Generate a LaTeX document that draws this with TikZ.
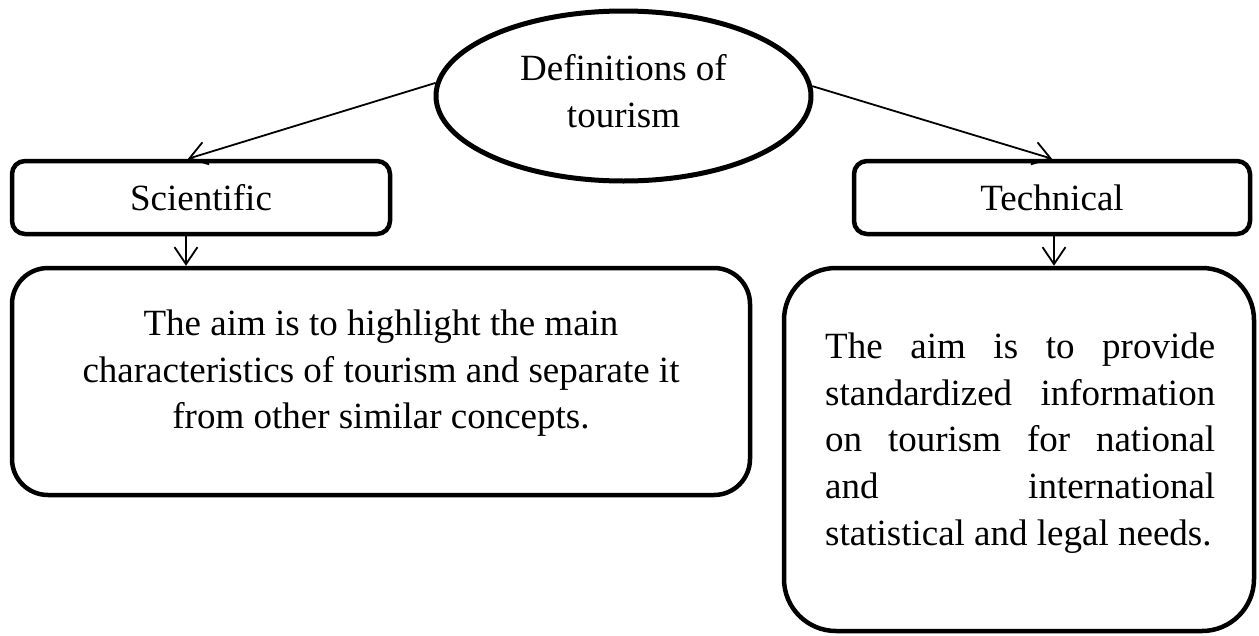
\documentclass[tikz,border=0pt]{standalone}
\usepackage{fontspec}
\setmainfont{Liberation Serif}
\usetikzlibrary{arrows.meta,shapes.geometric}
\begin{document}
\begin{tikzpicture}[x=1pt,y=-1pt,
  txt/.style={font=\fontsize{37}{46.7}\selectfont, inner sep=0pt},
  smallbox/.style={draw, line width=4.5pt, rounded corners=13pt, inner sep=0pt,
    font=\fontsize{37}{46.7}\selectfont, minimum height=73pt},
  bigbox/.style={draw, line width=4.5pt, inner sep=0pt},
  oval/.style={ellipse, draw, line width=5pt, inner sep=0pt},
  arr/.style={line width=1.8pt, -{Straight Barb[length=17pt,width=23pt]}}
]
\useasboundingbox (0,0) rectangle (1259,635);

\node[oval, minimum width=375pt, minimum height=170pt] (def) at (623.5,96) {};
\node[txt, anchor=north, align=center] (deftext) at (623.5,54.7) {Definitions of\\tourism};

\node[smallbox, minimum width=378pt] (sci) at (201,197.5) {Scientific};
\node[smallbox, minimum width=396pt] (tec) at (1052,197.5) {Technical};

\node[bigbox, rounded corners=36pt, minimum width=738pt, minimum height=227pt] (aimL) at (381,381.5) {};
\node[txt, anchor=north, align=center] (aimLtext) at (381,309.7)
  {The aim is to highlight the main\\characteristics of tourism and separate it\\from other similar concepts.};

\node[bigbox, rounded corners=52pt, minimum width=470pt, minimum height=363pt] (aimR) at (1019,449.5) {};
\node[txt, anchor=north west, align=left] (aimRtext) at (825,332.7)
  {\makebox[390pt][s]{The aim is to provide}\\
   \makebox[390pt][s]{standardized information}\\
   \makebox[390pt][s]{on tourism for national}\\
   \makebox[390pt][s]{and international}\\
   statistical and legal needs.};

\draw[arr] (def.176) -- ([xshift=-13pt]sci.north);
\draw[arr] (def.3) -- (tec.north);
\draw[arr] ([xshift=-15pt]sci.south) -- ([xshift=-15pt]sci.south |- aimL.north);
\draw[arr] ([xshift=2pt]tec.south) -- ([xshift=2pt]tec.south |- aimR.north);
\end{tikzpicture}
\end{document}
